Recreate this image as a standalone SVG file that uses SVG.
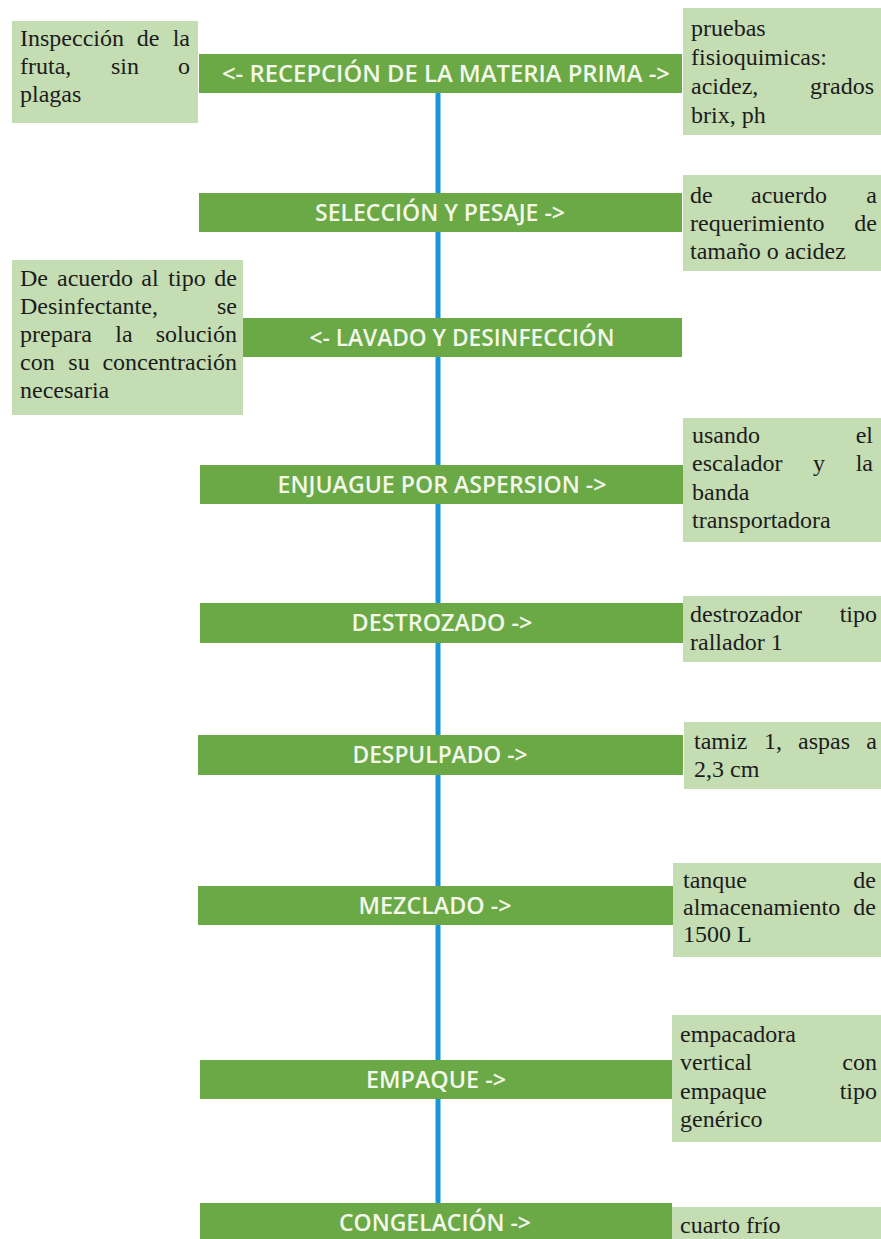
<svg xmlns="http://www.w3.org/2000/svg" width="881" height="1239" viewBox="0 0 881 1239">
<style>
.bar{fill:#6ba846}
.box{fill:#c5ddb3}
.bt{font-family:"Open Sans","Liberation Sans",sans-serif;font-weight:600;font-size:24px;fill:#f3f8ea;text-anchor:middle}
.st{font-family:"Liberation Serif","Times New Roman",serif;font-size:24px;fill:#1c1c1c}
.e{text-anchor:end}
.m{text-anchor:middle}
.line{stroke:#1a96d6;stroke-width:5;fill:none}
</style>
<rect x="0" y="0" width="881" height="1239" fill="#ffffff"/>
<g id="connectors">
<line class="line" x1="438" y1="93" x2="438" y2="1203"/>
</g>
<g id="recepcion">
<rect class="bar" x="199" y="54" width="483" height="39"/>
<text class="bt" x="446" y="82" textLength="448" lengthAdjust="spacingAndGlyphs">&lt;- RECEPCIÓN DE LA MATERIA PRIMA -&gt;</text>
</g>
<g id="nota-inspeccion">
<rect class="box" x="12" y="21" width="186" height="102"/>
<text class="st" x="20" y="46">Inspección</text><text class="st m" x="148" y="46">de</text><text class="st e" x="190" y="46">la</text>
<text class="st" x="20" y="74">fruta,</text><text class="st m" x="125" y="74">sin</text><text class="st e" x="190" y="74">o</text>
<text class="st" x="20" y="102">plagas</text>
</g>
<g id="nota-pruebas">
<rect class="box" x="683" y="8" width="198" height="127"/>
<text class="st" x="691" y="36">pruebas</text>
<text class="st" x="691" y="65">fisioquimicas:</text>
<text class="st" x="691" y="94">acidez,</text><text class="st e" x="874" y="94">grados</text>
<text class="st" x="691" y="123">brix, ph</text>
</g>
<g id="seleccion">
<rect class="bar" x="199" y="193" width="483" height="39"/>
<text class="bt" x="440" y="221" textLength="250" lengthAdjust="spacingAndGlyphs">SELECCIÓN Y PESAJE -&gt;</text>
</g>
<g id="nota-seleccion">
<rect class="box" x="683" y="175" width="198" height="96"/>
<text class="st" x="690" y="203">de</text><text class="st m" x="789" y="203">acuerdo</text><text class="st e" x="877" y="203">a</text>
<text class="st" x="690" y="231">requerimiento</text><text class="st e" x="877" y="231">de</text>
<text class="st" x="690" y="259">tamaño o acidez</text>
</g>
<g id="lavado">
<rect class="bar" x="243" y="318" width="439" height="39"/>
<text class="bt" x="462" y="346" textLength="305" lengthAdjust="spacingAndGlyphs">&lt;- LAVADO Y DESINFECCIÓN</text>
</g>
<g id="nota-lavado">
<rect class="box" x="12" y="260" width="231" height="155"/>
<text class="st" x="20" y="286">De</text><text class="st m" x="95" y="286">acuerdo</text><text class="st m" x="150" y="286">al</text><text class="st m" x="187" y="286">tipo</text><text class="st e" x="237" y="286">de</text>
<text class="st" x="20" y="314">Desinfectante,</text><text class="st e" x="237" y="314">se</text>
<text class="st" x="20" y="342">prepara</text><text class="st m" x="124" y="342">la</text><text class="st e" x="237" y="342">solución</text>
<text class="st" x="20" y="370">con</text><text class="st m" x="79" y="370">su</text><text class="st e" x="237" y="370">concentración</text>
<text class="st" x="20" y="398">necesaria</text>
</g>
<g id="enjuague">
<rect class="bar" x="200" y="465" width="483" height="39"/>
<text class="bt" x="442" y="493" textLength="329" lengthAdjust="spacingAndGlyphs">ENJUAGUE POR ASPERSION -&gt;</text>
</g>
<g id="nota-enjuague">
<rect class="box" x="683" y="418" width="198" height="124"/>
<text class="st" x="692" y="443">usando</text><text class="st e" x="873" y="443">el</text>
<text class="st" x="692" y="471">escalador</text><text class="st m" x="819" y="471">y</text><text class="st e" x="873" y="471">la</text>
<text class="st" x="692" y="500">banda</text>
<text class="st" x="692" y="528">transportadora</text>
</g>
<g id="destrozado">
<rect class="bar" x="200" y="603" width="483" height="40"/>
<text class="bt" x="442" y="631" textLength="181" lengthAdjust="spacingAndGlyphs">DESTROZADO -&gt;</text>
</g>
<g id="nota-destrozado">
<rect class="box" x="683" y="596" width="198" height="66"/>
<text class="st" x="690" y="622">destrozador</text><text class="st e" x="877" y="622">tipo</text>
<text class="st" x="690" y="650">rallador 1</text>
</g>
<g id="despulpado">
<rect class="bar" x="198" y="735" width="485" height="40"/>
<text class="bt" x="440" y="763" textLength="175" lengthAdjust="spacingAndGlyphs">DESPULPADO -&gt;</text>
</g>
<g id="nota-despulpado">
<rect class="box" x="684" y="722" width="197" height="67"/>
<text class="st" x="694" y="749">tamiz</text><text class="st m" x="773" y="749">1,</text><text class="st m" x="824" y="749">aspas</text><text class="st e" x="877" y="749">a</text>
<text class="st" x="694" y="777">2,3 cm</text>
</g>
<g id="mezclado">
<rect class="bar" x="198" y="886" width="475" height="39"/>
<text class="bt" x="435" y="914" textLength="153" lengthAdjust="spacingAndGlyphs">MEZCLADO -&gt;</text>
</g>
<g id="nota-mezclado">
<rect class="box" x="673" y="863" width="208" height="94"/>
<text class="st" x="683" y="888">tanque</text><text class="st e" x="876" y="888">de</text>
<text class="st" x="683" y="915">almacenamiento</text><text class="st e" x="876" y="915">de</text>
<text class="st" x="683" y="942">1500 L</text>
</g>
<g id="empaque">
<rect class="bar" x="200" y="1060" width="472" height="39"/>
<text class="bt" x="436" y="1088" textLength="140" lengthAdjust="spacingAndGlyphs">EMPAQUE -&gt;</text>
</g>
<g id="nota-empaque">
<rect class="box" x="672" y="1015" width="209" height="127"/>
<text class="st" x="680" y="1042">empacadora</text>
<text class="st" x="680" y="1070">vertical</text><text class="st e" x="877" y="1070">con</text>
<text class="st" x="680" y="1099">empaque</text><text class="st e" x="877" y="1099">tipo</text>
<text class="st" x="680" y="1127">genérico</text>
</g>
<g id="congelacion">
<rect class="bar" x="200" y="1203" width="472" height="40"/>
<text class="bt" x="435" y="1231" textLength="192" lengthAdjust="spacingAndGlyphs">CONGELACIÓN -&gt;</text>
</g>
<g id="nota-congelacion">
<rect class="box" x="672" y="1207" width="209" height="36"/>
<text class="st" x="680" y="1233">cuarto frío</text>
</g>
</svg>
